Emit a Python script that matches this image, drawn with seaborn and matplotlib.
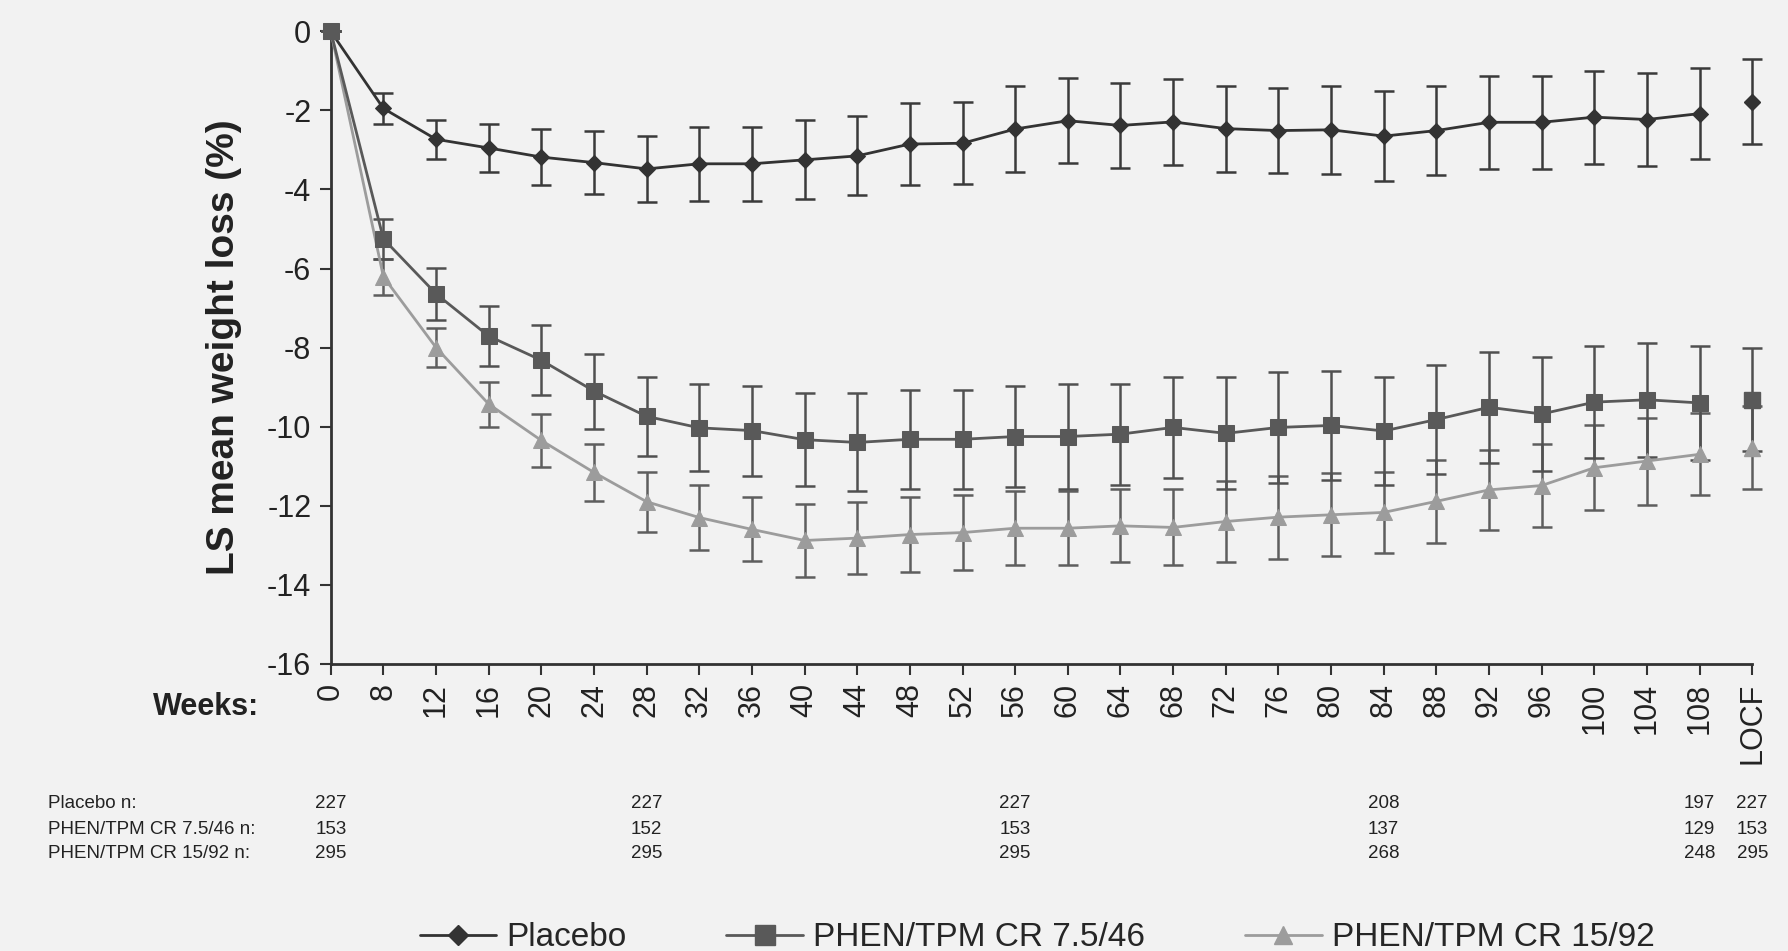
import matplotlib.pyplot as plt
import matplotlib.transforms as mtransforms
from matplotlib.lines import Line2D
import numpy as np
import pandas as pd
import seaborn as sns

# week labels on the x axis (LOCF is the last, unconnected point)
weeks = ["0", "8", "12", "16", "20", "24", "28", "32", "36", "40", "44", "48", "52",
         "56", "60", "64", "68", "72", "76", "80", "84", "88", "92", "96", "100",
         "104", "108"]
locf_label = "LOCF"

placebo_mean = [0, -1.95, -2.73, -2.95, -3.18, -3.32, -3.48, -3.35, -3.35, -3.25, -3.15,
                -2.85, -2.83, -2.47, -2.26, -2.38, -2.29, -2.46, -2.51, -2.49, -2.65,
                -2.51, -2.30, -2.30, -2.17, -2.23, -2.08]
placebo_err = [0, 0.40, 0.50, 0.60, 0.70, 0.80, 0.83, 0.93, 0.93, 1.00, 1.00, 1.04, 1.04,
               1.09, 1.07, 1.07, 1.09, 1.09, 1.08, 1.12, 1.13, 1.13, 1.18, 1.18, 1.18,
               1.17, 1.16]
placebo_locf = -1.78
placebo_locf_err = 1.07

low_mean = [0, -5.25, -6.64, -7.71, -8.32, -9.10, -9.74, -10.03, -10.10, -10.33, -10.40,
            -10.32, -10.32, -10.25, -10.25, -10.19, -10.02, -10.17, -10.02, -9.97, -10.11,
            -9.82, -9.51, -9.68, -9.38, -9.32, -9.40]
low_err = [0, 0.50, 0.65, 0.76, 0.88, 0.95, 1.00, 1.10, 1.14, 1.17, 1.24, 1.25, 1.25,
           1.28, 1.33, 1.28, 1.27, 1.42, 1.41, 1.38, 1.36, 1.38, 1.40, 1.44, 1.42, 1.44,
           1.45]
low_locf = -9.32
low_locf_err = 1.30

high_mean = [0, -6.21, -8.00, -9.43, -10.35, -11.16, -11.90, -12.30, -12.60, -12.88,
             -12.82, -12.73, -12.68, -12.57, -12.57, -12.51, -12.55, -12.40, -12.29,
             -12.23, -12.17, -11.89, -11.60, -11.49, -11.04, -10.87, -10.70]
high_err = [0, 0.45, 0.50, 0.57, 0.68, 0.73, 0.76, 0.83, 0.81, 0.92, 0.92, 0.96, 0.95,
            0.94, 0.94, 0.92, 0.96, 1.03, 1.05, 1.05, 1.03, 1.05, 1.02, 1.05, 1.07, 1.10,
            1.04]
high_locf = -10.53
high_locf_err = 1.04

groups = ["Placebo", "PHEN/TPM CR 7.5/46", "PHEN/TPM CR 15/92"]

# n table under the chart
n_row_labels = ["Placebo n:", "PHEN/TPM CR 7.5/46 n:", "PHEN/TPM CR 15/92 n:"]
n_columns = ["0", "28", "56", "84", "108", "LOCF"]
placebo_n = [227, 227, 227, 208, 197, 227]
low_n = [153, 152, 153, 137, 129, 153]
high_n = [295, 295, 295, 268, 248, 295]

bg = "#f2f2f2"
line_colors = {"Placebo": "#333333", "PHEN/TPM CR 7.5/46": "#595959",
               "PHEN/TPM CR 15/92": "#9c9c9c"}
err_colors = {"Placebo": "#3a3a3a", "PHEN/TPM CR 7.5/46": "#505050",
              "PHEN/TPM CR 15/92": "#5e5e5e"}
markers = {"Placebo": "D", "PHEN/TPM CR 7.5/46": "s", "PHEN/TPM CR 15/92": "^"}
msizes = {"Placebo": 8, "PHEN/TPM CR 7.5/46": 12, "PHEN/TPM CR 15/92": 11}

sns.set_theme(style="ticks")
plt.rcParams["font.family"] = ["Liberation Sans", "DejaVu Sans"]

labels = weeks + [locf_label]
pos = np.arange(len(weeks))
locf_pos = len(weeks)

df = pd.DataFrame({
    "pos": np.tile(pos, 3),
    "mean": placebo_mean + low_mean + high_mean,
    "err": placebo_err + low_err + high_err,
    "group": np.repeat(groups, len(weeks)),
})
locf = {"Placebo": (placebo_locf, placebo_locf_err),
        "PHEN/TPM CR 7.5/46": (low_locf, low_locf_err),
        "PHEN/TPM CR 15/92": (high_locf, high_locf_err)}

fig = plt.figure(figsize=(17.88, 9.51), dpi=100, facecolor=bg)
ax = fig.add_axes([0.185, 0.302, 0.795, 0.665], facecolor=bg)

# error bars first so the lines sit on top
for g in ["Placebo", "PHEN/TPM CR 15/92", "PHEN/TPM CR 7.5/46"]:
    d = df[df.group == g]
    ax.errorbar(d["pos"], d["mean"], yerr=d["err"], fmt="none", ecolor=err_colors[g],
                elinewidth=1.8, capsize=7, capthick=1.8, zorder=2, clip_on=False)
    ax.errorbar([locf_pos], [locf[g][0]], yerr=[locf[g][1]], fmt="none",
                ecolor=err_colors[g], elinewidth=1.8, capsize=7, capthick=1.8,
                zorder=2, clip_on=False)

for g in ["Placebo", "PHEN/TPM CR 15/92", "PHEN/TPM CR 7.5/46"]:
    d = df[df.group == g]
    sns.lineplot(data=d, x="pos", y="mean", color=line_colors[g], marker=markers[g],
                 markersize=msizes[g], markeredgecolor=line_colors[g], linewidth=2,
                 ax=ax, zorder=3, clip_on=False, legend=False)
    ax.plot([locf_pos], [locf[g][0]], marker=markers[g], markersize=msizes[g],
            color=line_colors[g], linestyle="none", zorder=3, clip_on=False)

ax.set_xlim(0, locf_pos)
ax.set_ylim(-16, 0)
ax.set_xticks(np.arange(len(labels)))
ax.set_xticklabels(labels, rotation=90, fontsize=22, va="top")
ax.set_yticks(np.arange(-16, 1, 2))
ax.set_yticklabels([str(v) for v in range(-16, 1, 2)], fontsize=22)
ax.tick_params(axis="both", direction="out", length=8, width=1.5, color="#333333",
               pad=6, labelcolor="#222222")
ax.set_xlabel("")
ax.set_ylabel("LS mean weight loss (%)", fontsize=28, fontweight="bold", labelpad=18,
              color="#222222")
for s in ["top", "right"]:
    ax.spines[s].set_visible(False)
for s in ["left", "bottom"]:
    ax.spines[s].set_color("#333333")
    ax.spines[s].set_linewidth(2)

fig.text(0.115, 0.257, "Weeks:", fontsize=22, fontweight="bold", ha="center",
         va="center", color="#222222")

# n table
trans = mtransforms.blended_transform_factory(ax.transData, fig.transFigure)
row_y = [0.155, 0.128, 0.102]
col_pos = [labels.index(c) for c in n_columns]
for lab, y, vals in zip(n_row_labels, row_y, [placebo_n, low_n, high_n]):
    fig.text(0.027, y, lab, fontsize=13.5, ha="left", va="center", color="#222222")
    for p, v in zip(col_pos, vals):
        ax.text(p, y, str(v), transform=trans, fontsize=13.5, ha="center", va="center",
                color="#222222")

handles = [Line2D([], [], color=line_colors[g], marker=markers[g], markersize=msizes[g] + 2,
                  linewidth=2) for g in groups]
fig.legend(handles, groups, loc="center", bbox_to_anchor=(0.58, 0.014), ncol=3,
           frameon=False, fontsize=24, handlelength=2.3, handletextpad=0.3,
           columnspacing=3.0)

fig.savefig("out.png", dpi=100, facecolor=bg)
